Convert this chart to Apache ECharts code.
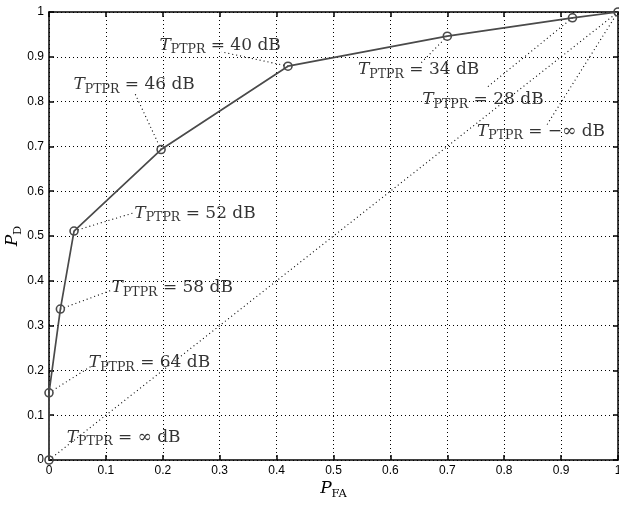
<!DOCTYPE html>
<html>
<head>
<meta charset="utf-8">
<script src="https://cdn.jsdelivr.net/npm/echarts@6/dist/echarts.min.js"></script>
<style>
  html, body { margin: 0; padding: 0; background: #fff; }
  #chart { width: 619px; height: 505px; }
</style>
</head>
<body>
<div id="chart"></div>
<script>
// ROC operating points, one per PTPR threshold
const pFA = [0, 0, 0.02, 0.044, 0.197, 0.42, 0.70, 0.92, 1];
const pD  = [0, 0.15, 0.337, 0.511, 0.693, 0.879, 0.946, 0.987, 1];
const thresholds = ['∞', '64', '58', '52', '46', '40', '34', '28', '−∞'];

// Where each threshold annotation sits (data units, left-middle of the text)
const noteX = [0.031, 0.070, 0.110, 0.150, 0.043, 0.194, 0.543, 0.656, 0.752];
const noteY = [0.051, 0.217, 0.384, 0.551, 0.837, 0.926, 0.871, 0.804, 0.734];
// Far end of the dotted leader from each point to its annotation (null: no leader)
const leadX = [null, 0.075, 0.110, 0.147, 0.150, 0.303, 0.652, 0.768, 0.873];
const leadY = [null, 0.210, 0.379, 0.551, 0.821, 0.911, 0.884, 0.830, 0.744];

// Chance line
const chanceX = [0, 1];
const chanceY = [0, 1];

const SERIF = 'DejaVu Serif';
const SANS = 'Liberation Sans';
const INK = '#000';
const CURVE = '#4a4a4a';
const DOTS = [1, 3];

const mathRich = {
  t: { fontFamily: SERIF, fontStyle: 'italic', fontSize: 17, color: INK, lineHeight: 22 },
  s: { fontFamily: SERIF, fontSize: 12.5, color: INK, lineHeight: 10, verticalAlign: 'bottom' },
  r: { fontFamily: SERIF, fontSize: 17, color: INK, lineHeight: 22 }
};

const fmtTick = v => String(+(+v).toFixed(1));

const leaderSeries = [];
for (let i = 0; i < pFA.length; i++) {
  if (leadX[i] === null) continue;
  leaderSeries.push({
    type: 'line',
    data: [[pFA[i], pD[i]], [leadX[i], leadY[i]]],
    symbol: 'none',
    silent: true,
    z: 2,
    lineStyle: { color: '#000', width: 1.1, type: DOTS }
  });
}

const boxAxis = {
  axisLine: { show: true, onZero: false, lineStyle: { color: '#000', width: 1.5 } },
  axisTick: { show: true, inside: true, length: 5, lineStyle: { color: '#000', width: 1.5 } }
};

const tickText = { show: true, margin: 5, fontFamily: SANS, fontSize: 12, color: '#000', formatter: fmtTick };

const nameRich = {
  p: { fontFamily: SERIF, fontStyle: 'italic', fontSize: 17, color: INK, lineHeight: 22 },
  s: { fontFamily: SERIF, fontSize: 11.5, color: INK, lineHeight: 10, verticalAlign: 'bottom' }
};

const chart = echarts.init(document.getElementById('chart'), null, { renderer: 'canvas' });

chart.setOption({
  animation: false,
  backgroundColor: '#fff',
  grid: { left: 49, right: 1, top: 12, bottom: 45, containLabel: false, outerBoundsMode: 'none' },
  xAxis: [
    {
      type: 'value', min: 0, max: 1, interval: 0.1, position: 'bottom',
      ...boxAxis,
      axisLabel: tickText,
      splitLine: { show: true, lineStyle: { color: '#000', width: 1, type: DOTS } },
      name: '{p|P}{s|FA}',
      nameLocation: 'middle',
      nameGap: 18,
      nameMoveOverlap: false,
      nameTextStyle: { rich: nameRich }
    },
    {
      type: 'value', min: 0, max: 1, interval: 0.1, position: 'top',
      ...boxAxis,
      axisLabel: { show: false },
      splitLine: { show: false }
    }
  ],
  yAxis: [
    {
      type: 'value', min: 0, max: 1, interval: 0.1, position: 'left',
      ...boxAxis,
      axisLabel: tickText,
      splitLine: { show: true, lineStyle: { color: '#000', width: 1, type: DOTS } },
      name: '{p|P}{s|D}',
      nameLocation: 'middle',
      nameGap: 25,
      nameMoveOverlap: false,
      nameTextStyle: { rich: nameRich }
    },
    {
      type: 'value', min: 0, max: 1, interval: 0.1, position: 'right',
      ...boxAxis,
      axisLabel: { show: false },
      splitLine: { show: false }
    }
  ],
  series: [
    {
      type: 'line',
      data: chanceX.map((x, i) => [x, chanceY[i]]),
      symbol: 'none',
      silent: true,
      z: 2,
      lineStyle: { color: '#000', width: 1.1, type: DOTS }
    },
    ...leaderSeries,
    {
      type: 'line',
      data: pFA.map((x, i) => [x, pD[i]]),
      symbol: 'circle',
      symbolSize: 8,
      showAllSymbol: true,
      z: 5,
      lineStyle: { color: CURVE, width: 1.7 },
      itemStyle: { color: 'rgba(0,0,0,0)', borderColor: CURVE, borderWidth: 1.6 }
    },
    {
      type: 'scatter',
      data: noteX.map((x, i) => ({ value: [x, noteY[i]], name: thresholds[i] })),
      symbolSize: 0,
      silent: true,
      z: 6,
      label: {
        show: true,
        position: 'right',
        distance: 0,
        formatter: p => `{t|T}{s|PTPR}{r| = ${p.name} dB}`,
        rich: mathRich
      }
    }
  ]
});
</script>
</body>
</html>
